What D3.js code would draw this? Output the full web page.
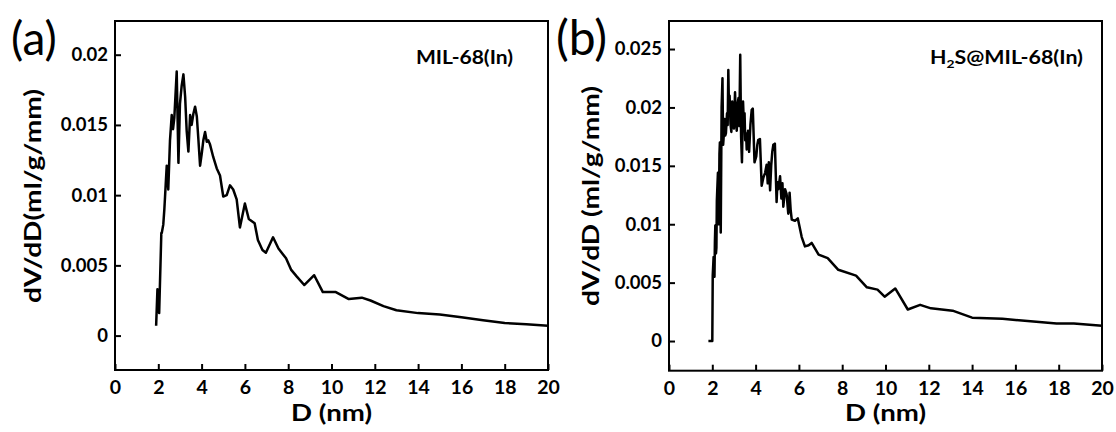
<!DOCTYPE html>
<html>
<head>
<meta charset="utf-8">
<script src="https://cdn.jsdelivr.net/npm/d3@7/dist/d3.min.js"></script>
<style>
  html, body { margin: 0; padding: 0; background: #fff; }
  svg { display: block; }
  .tick text { font-family: Lato, "Open Sans", sans-serif; font-weight: 700; fill: #000; }
</style>
</head>
<body>
<svg id="chart" width="1116" height="432"></svg>
<script>
// Pore size distribution, panel (a): MIL-68(In)
const poreSizeA = [1.90,1.96,2.04,2.14,2.16,2.23,2.28,2.34,2.39,2.46,2.54,2.62,2.68,2.74,2.85,2.93,3.00,3.08,3.16,3.24,3.31,3.39,3.47,3.54,3.62,3.70,3.78,3.85,3.93,4.01,4.08,4.16,4.24,4.31,4.39,4.54,4.70,4.85,5.00,5.16,5.31,5.46,5.62,5.77,6.00,6.18,6.45,6.60,6.81,6.97,7.30,7.55,7.90,8.13,8.40,8.74,9.20,9.60,10.2,10.8,11.4,11.8,12.4,13.0,14.0,15.0,16.0,17.0,18.0,19.0,20.0];
const dvdDA = [0.0007,0.0033,0.0016,0.0073,0.0073,0.0079,0.0090,0.0107,0.0121,0.0104,0.0139,0.0157,0.0147,0.0155,0.0188,0.0123,0.0165,0.0178,0.0186,0.0170,0.0146,0.0131,0.0157,0.0150,0.0158,0.0163,0.0156,0.0140,0.0121,0.0130,0.0139,0.0145,0.0138,0.0139,0.0136,0.0127,0.0119,0.0114,0.0099,0.0100,0.0107,0.0104,0.0097,0.0077,0.0094,0.0083,0.0080,0.0068,0.0061,0.0059,0.0070,0.0062,0.0055,0.0047,0.0042,0.0036,0.0043,0.0031,0.0031,0.0026,0.0027,0.0025,0.0021,0.0018,0.0016,0.0015,0.0013,0.0011,0.0009,0.0008,0.0007];

// Pore size distribution, panel (b): H2S@MIL-68(In)
const poreSizeB = [1.82,2.00,2.02,2.06,2.08,2.10,2.12,2.14,2.17,2.19,2.21,2.23,2.26,2.30,2.33,2.35,2.39,2.43,2.47,2.50,2.52,2.57,2.60,2.63,2.68,2.71,2.74,2.77,2.80,2.84,2.88,2.92,2.96,3.00,3.05,3.09,3.13,3.17,3.21,3.25,3.29,3.33,3.37,3.42,3.46,3.49,3.52,3.56,3.59,3.65,3.70,3.76,3.82,3.87,3.95,4.03,4.08,4.12,4.20,4.28,4.36,4.44,4.51,4.56,4.61,4.67,4.72,4.77,4.82,4.89,4.97,5.01,5.05,5.13,5.19,5.24,5.28,5.36,5.43,5.51,5.57,5.62,5.67,5.82,5.95,6.13,6.28,6.45,6.59,6.91,7.33,7.82,8.64,9.14,9.63,9.96,10.45,11.03,11.6,12.1,13.1,14.0,15.4,16.7,17.9,18.7,20.0];
const dvdDB = [0,0,0.0056,0.0072,0.0060,0.0055,0.0085,0.0099,0.0075,0.0080,0.0120,0.0130,0.0144,0.0100,0.0160,0.0170,0.0093,0.0200,0.0225,0.0168,0.0173,0.0190,0.0176,0.0178,0.0195,0.0185,0.0232,0.0200,0.0210,0.0186,0.0179,0.0205,0.0196,0.0182,0.0213,0.0190,0.0180,0.0203,0.0208,0.0184,0.0245,0.0175,0.0153,0.0205,0.0185,0.0195,0.0172,0.0178,0.0164,0.0180,0.0162,0.0185,0.0198,0.0199,0.0153,0.0158,0.0168,0.0172,0.0173,0.0133,0.0140,0.0144,0.0151,0.0135,0.0153,0.0129,0.0150,0.0162,0.0168,0.0169,0.0119,0.0136,0.0130,0.0141,0.0122,0.0135,0.0115,0.0130,0.0126,0.0109,0.0127,0.0112,0.0104,0.0103,0.0105,0.0089,0.0081,0.0082,0.0084,0.0074,0.0071,0.0061,0.0056,0.0046,0.0044,0.0038,0.0045,0.0027,0.0031,0.0028,0.0026,0.0020,0.0019,0.0017,0.0015,0.0015,0.0013];

// Axis ticks and labels
const xTicks = [0,2,4,6,8,10,12,14,16,18,20];
const yTicksA = [0,0.005,0.01,0.015,0.02];
const yTickLabelsA = ["0","0.005","0.01","0.015","0.02"];
const yTicksB = [0,0.005,0.01,0.015,0.02,0.025];
const yTickLabelsB = ["0","0.005","0.01","0.015","0.02","0.025"];

const svg = d3.select("#chart");
const FONT = "Lato, 'Open Sans', sans-serif";

function drawPanel(cfg) {
  const {left, right, top, bottom, xs, ys, yDomain, yTicks, yLabels,
         letter, letterX, letterY, letterSize, yTitle, yTitleX, yTitleLen,
         sampleX, sampleLen, sampleParts} = cfg;

  const x = d3.scaleLinear().domain([0, 20]).range([left, right]);
  const y = d3.scaleLinear().domain(yDomain).range([bottom, top]);
  const g = svg.append("g");

  // x axis (ticks pointing inward)
  const xAxis = d3.axisBottom(x).tickValues(xTicks).tickFormat(d3.format("d"))
    .tickSizeInner(-6).tickSizeOuter(0).tickPadding(9);
  const gx = g.append("g").attr("transform", `translate(0,${bottom})`).call(xAxis);
  gx.select(".domain").remove();
  gx.selectAll(".tick line").attr("stroke", "#000").attr("stroke-width", 2);
  gx.selectAll(".tick text").attr("font-size", 19.5).attr("dy", "0.76em");

  // y axis (ticks pointing inward)
  const yAxis = d3.axisLeft(y).tickValues(yTicks).tickFormat((d, i) => yLabels[i])
    .tickSizeInner(-6).tickSizeOuter(0).tickPadding(7);
  const gy = g.append("g").attr("transform", `translate(${left},0)`).call(yAxis);
  gy.select(".domain").remove();
  gy.selectAll(".tick line").attr("stroke", "#000").attr("stroke-width", 2);
  gy.selectAll(".tick text").attr("font-size", 18.5);

  // frame
  g.append("rect").attr("x", left).attr("y", top)
    .attr("width", right - left).attr("height", bottom - top)
    .attr("fill", "none").attr("stroke", "#000").attr("stroke-width", 2);

  // distribution curve
  const line = d3.line().x(i => x(xs[i])).y(i => y(ys[i]));
  g.append("path").attr("d", line(d3.range(xs.length)))
    .attr("fill", "none").attr("stroke", "#000")
    .attr("stroke-width", 2.5).attr("stroke-linejoin", "round");

  // panel letter
  g.append("text").attr("x", letterX).attr("y", letterY)
    .attr("font-family", FONT).attr("font-size", letterSize).attr("fill", "#000")
    .text(letter);

  // axis titles
  g.append("text")
    .attr("transform", `translate(${yTitleX},${(88 + 304) / 2}) rotate(-90)`)
    .attr("text-anchor", "middle").attr("dy", "0.35em")
    .attr("font-family", FONT).attr("font-weight", 700).attr("font-size", 22.5)
    .attr("textLength", yTitleLen).attr("lengthAdjust", "spacingAndGlyphs")
    .text(yTitle);

  g.append("text").attr("x", (left + right) / 2).attr("y", 421)
    .attr("text-anchor", "middle")
    .attr("font-family", FONT).attr("font-weight", 700).attr("font-size", 23)
    .attr("textLength", 81).attr("lengthAdjust", "spacingAndGlyphs")
    .text("D (nm)");

  // sample name
  const st = g.append("text").attr("x", sampleX).attr("y", 64)
    .attr("font-family", FONT).attr("font-weight", 700).attr("font-size", 18.5)
    .attr("textLength", sampleLen).attr("lengthAdjust", "spacingAndGlyphs");
  sampleParts.forEach(p => {
    const t = st.append("tspan").text(p.t);
    if (p.sub) t.attr("font-size", 12).attr("dy", 4);
    if (p.after) t.attr("dy", -4);
  });
}

drawPanel({
  left: 115, right: 548, top: 21, bottom: 370,
  xs: poreSizeA, ys: dvdDA, yDomain: [-0.00245, 0.0224],
  yTicks: yTicksA, yLabels: yTickLabelsA,
  letter: "(a)", letterX: 11, letterY: 55, letterSize: 46,
  yTitle: "dV/dD(ml/g/mm)", yTitleX: 33, yTitleLen: 214,
  sampleX: 416, sampleLen: 97,
  sampleParts: [{t: "MIL-68(In)"}]
});

drawPanel({
  left: 669, right: 1102, top: 21, bottom: 370.7,
  xs: poreSizeB, ys: dvdDB, yDomain: [-0.00254, 0.0274],
  yTicks: yTicksB, yLabels: yTickLabelsB,
  letter: "(b)", letterX: 556, letterY: 55, letterSize: 48,
  yTitle: "dV/dD (ml/g/mm)", yTitleX: 591, yTitleLen: 220,
  sampleX: 930, sampleLen: 153,
  sampleParts: [{t: "H"}, {t: "2", sub: true}, {t: "S@MIL-68(In)", after: true}]
});
</script>
</body>
</html>
